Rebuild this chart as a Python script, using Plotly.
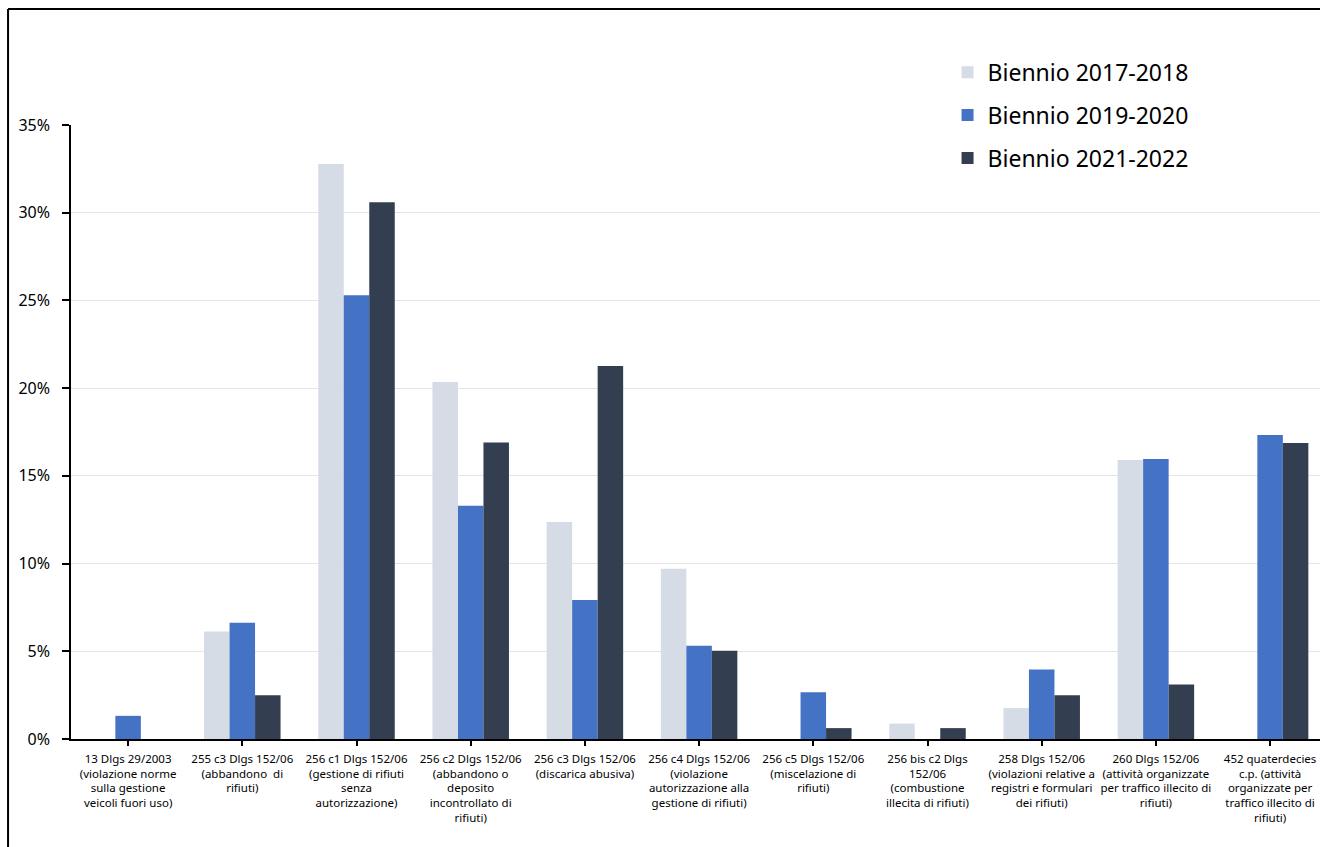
import plotly.graph_objects as go

categories = [
    "13 Dlgs 29/2003<br>(violazione norme<br>sulla gestione<br>veicoli fuori uso)",
    "255 c3 Dlgs 152/06<br>(abbandono  di<br>rifiuti)",
    "256 c1 Dlgs 152/06<br>(gestione di rifiuti<br>senza<br>autorizzazione)",
    "256 c2 Dlgs 152/06<br>(abbandono o<br>deposito<br>incontrollato di<br>rifiuti)",
    "256 c3 Dlgs 152/06<br>(discarica abusiva)",
    "256 c4 Dlgs 152/06<br>(violazione<br>autorizzazione alla<br>gestione di rifiuti)",
    "256 c5 Dlgs 152/06<br>(miscelazione di<br>rifiuti)",
    "256 bis c2 Dlgs<br>152/06<br>(combustione<br>illecita di rifiuti)",
    "258 Dlgs 152/06<br>(violazioni relative a<br>registri e formulari<br>dei rifiuti)",
    "260 Dlgs 152/06<br>(attività organizzate<br>per traffico illecito di<br>rifiuti)",
    "452 quaterdecies<br>c.p. (attività<br>organizzate per<br>traffico illecito di<br>rifiuti)",
]

series_names = ["Biennio 2017-2018", "Biennio 2019-2020", "Biennio 2021-2022"]
values_2017_2018 = [0, 6.13, 32.78, 20.35, 12.37, 9.70, 0, 0.88, 1.76, 15.90, 0]
values_2019_2020 = [1.32, 6.62, 25.30, 13.29, 7.93, 5.31, 2.66, 0, 3.96, 15.96, 17.33]
values_2021_2022 = [0, 2.49, 30.60, 16.90, 21.26, 5.03, 0.62, 0.62, 2.49, 3.11, 16.87]
colors = ["#d6dce5", "#4472c4", "#333f50"]

y_ticks = [0, 5, 10, 15, 20, 25, 30, 35]
y_tick_labels = [f"{v}%" for v in y_ticks]

fig = go.Figure()
for i, (name, vals) in enumerate(zip(series_names, [values_2017_2018, values_2019_2020, values_2021_2022])):
    fig.add_trace(go.Bar(
        x=list(range(len(categories))), y=vals, name=name,
        marker=dict(color=colors[i], line=dict(width=0)),
        legendgroup=f"g{i}",
    ))

font_family = "Noto Sans, Open Sans, sans-serif"

fig.update_layout(
    width=1320, height=847,
    margin=dict(l=71, r=0, t=125, b=108),
    paper_bgcolor="white", plot_bgcolor="white",
    barmode="group", bargap=0.33, bargroupgap=0,
    font=dict(family=font_family, color="black"),
    legend=dict(
        x=0.7018, xanchor="left", y=1.121, yanchor="top",
        font=dict(size=23, color="black", family=font_family),
        bgcolor="rgba(0,0,0,0)", tracegroupgap=10, itemwidth=30,
    ),
    xaxis=dict(
        tickmode="array", tickvals=list(range(len(categories))), ticktext=categories,
        range=[-0.5, 10.437], tickangle=0,
        showline=True, linecolor="black", linewidth=1.5,
        ticks="outside", tickson="boundaries", ticklen=5, tickcolor="black", tickwidth=1.5,
        ticklabelstandoff=3,
        tickfont=dict(size=11.5, color="black", family=font_family),
        showgrid=False, zeroline=False,
    ),
    yaxis=dict(
        range=[0, 35], tickmode="array", tickvals=y_ticks, ticktext=y_tick_labels,
        showline=True, linecolor="black", linewidth=1.5,
        ticks="outside", ticklen=7, tickcolor="black", tickwidth=1.5,
        ticklabelstandoff=9,
        tickfont=dict(size=16, color="black", family=font_family),
        showgrid=True, gridcolor="#e4e4e4", gridwidth=1, zeroline=False,
    ),
    shapes=[
        dict(type="line", xref="paper", yref="paper", x0=-0.0504, x1=1.2, y0=1.1888, y1=1.1888,
             line=dict(color="black", width=2)),
        dict(type="line", xref="paper", yref="paper", x0=-0.0504, x1=-0.0504, y0=1.1888, y1=-0.4,
             line=dict(color="black", width=2)),
    ],
)

fig.write_html(
    "out.html",
    config={"displayModeBar": False},
    post_script="document.body.style.margin='0';document.body.style.overflow='hidden';",
)
